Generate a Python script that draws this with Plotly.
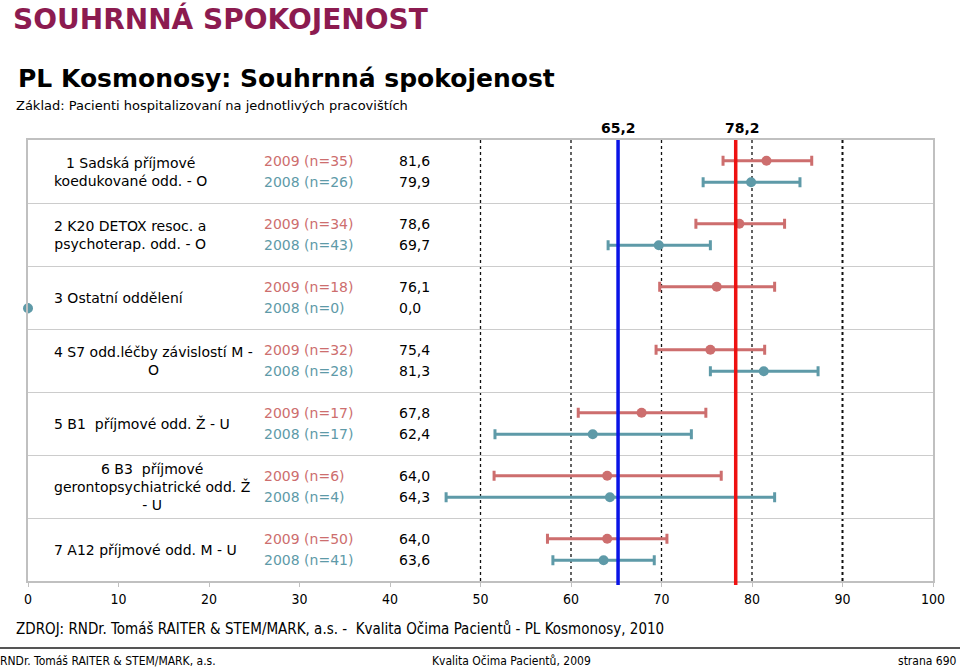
import plotly.graph_objects as go

# ---------------- data ----------------
categories = [
    "1 Sadská příjmové<br>koedukované odd. - O",
    "2 K20 DETOX resoc. a<br>psychoterap. odd. - O",
    "3 Ostatní oddělení",
    "4 S7 odd.léčby závislostí M -<br>O",
    "5 B1  příjmové odd. Ž - U",
    "6 B3  příjmové<br>gerontopsychiatrické odd. Ž<br>- U",
    "7 A12 příjmové odd. M - U",
]
n_2009 = [35, 34, 18, 32, 17, 6, 50]
n_2008 = [26, 43, 0, 28, 17, 4, 41]
mean_2009 = [81.6, 78.6, 76.1, 75.4, 67.8, 64.0, 64.0]
mean_2008 = [79.9, 69.7, 0.0, 81.3, 62.4, 64.3, 63.6]
low_2009 = [76.8, 73.8, 69.8, 69.4, 60.8, 51.5, 57.4]
high_2009 = [86.6, 83.6, 82.5, 81.4, 74.9, 76.6, 70.6]
low_2008 = [74.6, 64.1, None, 75.4, 51.6, 46.2, 58.0]
high_2008 = [85.3, 75.4, None, 87.3, 73.3, 82.5, 69.2]
ref_values = [65.2, 78.2]
ref_labels = ["65,2", "78,2"]
grid_values = [50, 60, 70, 80, 90]
x_ticks = list(range(0, 101, 10))

# ---------------- styles ----------------
C09 = "#CD6E6E"
C08 = "#5E9AA8"
REF_COLORS = ["#0A14E6", "#EE1111"]
FONT = "Verdana, 'DejaVu Sans', sans-serif"
FONT2 = "Tahoma, 'DejaVu Sans Condensed', 'Liberation Sans', sans-serif"

W, H = 960, 668
ML, MR, MT, MB = 28, 27, 140, 87
PW, PH = W - ML - MR, H - MT - MB


def px(x):
    return (x - ML) / PW


def py(y):
    return (H - MB - y) / PH


OFF09, OFF08 = 0.33, 0.67
rows = list(range(len(categories)))


def errs(mean, lo, hi):
    plus = [None if h is None else round(h - m, 2) for m, h in zip(mean, hi)]
    minus = [None if l is None else round(m - l, 2) for m, l in zip(mean, lo)]
    return plus, minus


p09, m09 = errs(mean_2009, low_2009, high_2009)
p08, m08 = errs(mean_2008, low_2008, high_2008)

fig = go.Figure()
fig.add_trace(go.Scatter(
    x=mean_2009, y=[r + OFF09 for r in rows], mode="markers", name="2009",
    marker=dict(color=C09, size=10),
    error_x=dict(type="data", array=p09, arrayminus=m09, color=C09,
                 thickness=3, width=5),
    cliponaxis=False, showlegend=False,
))
fig.add_trace(go.Scatter(
    x=mean_2008, y=[r + OFF08 for r in rows], mode="markers", name="2008",
    marker=dict(color=C08, size=10),
    error_x=dict(type="data", array=p08, arrayminus=m08, color=C08,
                 thickness=3, width=5),
    cliponaxis=False, showlegend=False,
))

shapes = []
for g in grid_values:
    shapes.append(dict(type="line", xref="x", yref="paper", x0=g, x1=g,
                       y0=0, y1=1, layer="below",
                       line=dict(color="#111111", width=2 if g == 90 else 1.3,
                                 dash="dot")))
for v, c in zip(ref_values, REF_COLORS):
    shapes.append(dict(type="line", xref="x", yref="paper", x0=v, x1=v,
                       y0=py(585), y1=1, layer="above",
                       line=dict(color=c, width=3.5)))
# footer rule
shapes.append(dict(type="line", xref="paper", yref="paper", x0=px(0), x1=px(W),
                   y0=py(648), y1=py(648), line=dict(color="#555555", width=2)))

ann = []
for i, v in enumerate(ref_values):
    ann.append(dict(x=v, y=1, xref="x", yref="paper", text=f"<b>{ref_labels[i]}</b>",
                    showarrow=False, yanchor="bottom", yshift=2,
                    xshift=7 if i == 1 else 0,
                    font=dict(family=FONT, size=14, color="#000")))

for r in rows:
    ann.append(dict(x=px(52), y=r + 0.5, xref="paper", yref="y", text=categories[r],
                    showarrow=False, xanchor="left", align="center",
                    font=dict(family=FONT, size=14, color="#000")))
    ann.append(dict(x=px(262), y=r + OFF09, xref="paper", yref="y",
                    text=f"2009 (n={n_2009[r]})", showarrow=False, xanchor="left",
                    font=dict(family=FONT, size=14, color=C09)))
    ann.append(dict(x=px(262), y=r + OFF08, xref="paper", yref="y",
                    text=f"2008 (n={n_2008[r]})", showarrow=False, xanchor="left",
                    font=dict(family=FONT, size=14, color=C08)))
    ann.append(dict(x=px(397), y=r + OFF09, xref="paper", yref="y",
                    text=f"{mean_2009[r]:.1f}".replace(".", ","), showarrow=False,
                    xanchor="left", font=dict(family=FONT, size=14, color="#000")))
    ann.append(dict(x=px(397), y=r + OFF08, xref="paper", yref="y",
                    text=f"{mean_2008[r]:.1f}".replace(".", ","), showarrow=False,
                    xanchor="left", font=dict(family=FONT, size=14, color="#000")))

# titles
ann.append(dict(x=px(11), y=py(19), xref="paper", yref="paper",
                text="<b>SOUHRNNÁ SPOKOJENOST</b>", showarrow=False,
                xanchor="left", yanchor="middle",
                font=dict(family=FONT, size=28, color="#8C1B50")))
ann.append(dict(x=px(16), y=py(79), xref="paper", yref="paper",
                text="<b>PL Kosmonosy: Souhrnná spokojenost</b>", showarrow=False,
                xanchor="left", yanchor="middle",
                font=dict(family=FONT, size=25, color="#000")))
ann.append(dict(x=px(14), y=py(105), xref="paper", yref="paper",
                text="Základ: Pacienti hospitalizovaní na jednotlivých pracovištích",
                showarrow=False, xanchor="left", yanchor="middle",
                font=dict(family=FONT, size=13, color="#000")))
# source + footer
ann.append(dict(x=px(14), y=py(629), xref="paper", yref="paper",
                text="ZDROJ: RNDr. Tomáš RAITER &amp; STEM/MARK, a.s. -  Kvalita Očima Pacientů - PL Kosmonosy, 2010",
                showarrow=False, xanchor="left", yanchor="middle",
                font=dict(family=FONT2, size=15, color="#000")))
ann.append(dict(x=px(-2), y=py(661), xref="paper", yref="paper",
                text="RNDr. Tomáš RAITER &amp; STEM/MARK, a.s.",
                showarrow=False, xanchor="left", yanchor="middle",
                font=dict(family=FONT2, size=12, color="#000")))
ann.append(dict(x=px(511), y=py(661), xref="paper", yref="paper",
                text="Kvalita Očima Pacientů, 2009",
                showarrow=False, xanchor="center", yanchor="middle",
                font=dict(family=FONT2, size=12, color="#000")))
ann.append(dict(x=px(959), y=py(661), xref="paper", yref="paper",
                text="strana 690",
                showarrow=False, xanchor="right", yanchor="middle",
                font=dict(family=FONT2, size=12, color="#000")))

fig.update_layout(
    width=W, height=H,
    margin=dict(l=ML, r=MR, t=MT, b=MB, pad=0),
    plot_bgcolor="white", paper_bgcolor="white",
    shapes=shapes, annotations=ann,
    xaxis=dict(range=[0, 100], tickvals=x_ticks, showgrid=False, zeroline=False,
               showline=True, linecolor="#C0C0C0", linewidth=1.5, mirror=True,
               ticks="outside", ticklen=4, tickcolor="#C0C0C0",
               tickfont=dict(family=FONT2, size=14, color="#000")),
    yaxis=dict(range=[len(categories), 0], tickvals=list(range(1, len(categories))),
               showticklabels=False, showgrid=True, gridcolor="#CCCCCC",
               gridwidth=1.2, zeroline=False, showline=True, linecolor="#C0C0C0",
               linewidth=1.5, mirror=True, ticks=""),
)

fig.write_html("out.html",
               config={"displayModeBar": False},
               post_script="document.body.style.margin='0px';document.body.style.overflow='hidden';")
